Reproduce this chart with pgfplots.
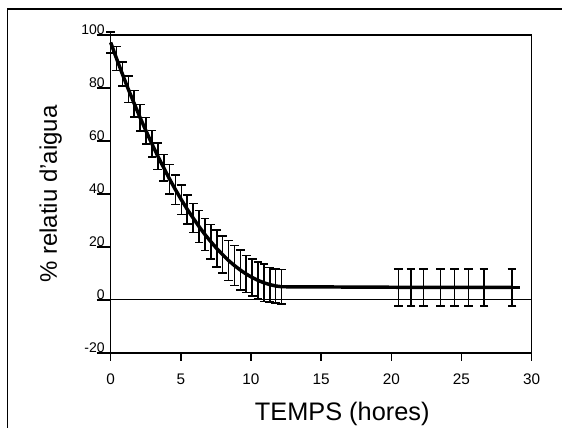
\documentclass[border=0pt]{standalone}
\usepackage{pgfplots}
\pgfplotsset{compat=1.18}
\usepackage{fontspec}
\setmainfont{Liberation Sans}

\pgfplotstableread{
t     v     e
0.00  97.2  4.0
0.42  91.1  4.5
0.84  85.2  4.5
1.26  79.5  5.0
1.68  74.1  5.0
2.10  68.8  5.0
2.52  63.8  5.0
2.94  58.9  5.0
3.36  54.3  5.0
3.78  49.9  5.0
4.20  45.6  5.5
4.62  41.6  5.5
5.04  37.8  5.5
5.46  34.2  5.5
5.88  30.9  5.5
6.30  27.7  6.0
6.72  24.7  6.0
7.14  22.0  6.5
7.56  19.4  7.0
7.98  17.1  7.0
8.40  14.9  7.5
8.82  13.0  7.5
9.24  11.3  7.5
9.66   9.8  7.0
10.08  8.5  7.0
10.50  7.4  7.0
10.92  6.5  7.0
11.34  5.8  6.5
11.76  5.3  6.5
12.18  5.0  6.5
20.50  4.8  7.0
21.40  4.8  7.0
22.30  4.8  7.0
23.50  4.8  7.0
24.50  4.8  7.0
25.50  4.8  7.0
26.60  4.8  7.0
28.60  4.8  7.0
}\aigua

\begin{document}
\begin{tikzpicture}
\useasboundingbox (-83pt,-56.25pt) rectangle (338.5pt,264.75pt);
% marc exterior
\draw[line width=1.1pt] (-77.5pt,-56.25pt) -- (-77.5pt,258pt) -- (338.5pt,258pt);
\begin{axis}[scale only axis, width=315.75pt, height=238.5pt,
  xmin=0, xmax=30, ymin=-20, ymax=100,
  xtick={0,5,...,30}, ytick={-20,0,...,100},
  axis line style={line width=1.1pt},
  tick align=outside, xtick pos=left, ytick pos=left,
  tick style={black, line width=1.1pt},
  xtick style={/pgfplots/major tick length=6pt},
  ytick style={/pgfplots/major tick length=10.5pt},
  /pgf/number format/assume math mode=true,
  yticklabel style={font=\fontsize{10.5}{12}\selectfont, anchor=south east, inner sep=0pt},
  xticklabel style={font=\fontsize{11.5}{13}\selectfont, yshift=-8pt},
  xlabel={TEMPS (hores)}, ylabel={\% relatiu d'aigua},
  xlabel style={font=\fontsize{19}{22}\selectfont, at={(axis description cs:0.55,-0.2138)}, anchor=base},
  ylabel style={font=\fontsize{18}{21}\selectfont, at={(axis description cs:-0.1276,0.5)}, anchor=base},
  clip=false]
\draw[line width=0.75pt] (axis cs:0,0) -- (axis cs:30,0);
\addplot[black, line width=2.6pt, mark=none,
  error bars/.cd, y dir=both, y explicit,
  error bar style={line width=1.2pt},
  error mark options={line width=1.2pt, mark size=3.3pt, rotate=90}]
  table[x=t, y=v, y error=e] {\aigua};
\addplot[black, line width=2.6pt, mark=none] coordinates {(28.6,4.8)(29.2,4.8)};
\end{axis}
\end{tikzpicture}
\end{document}
